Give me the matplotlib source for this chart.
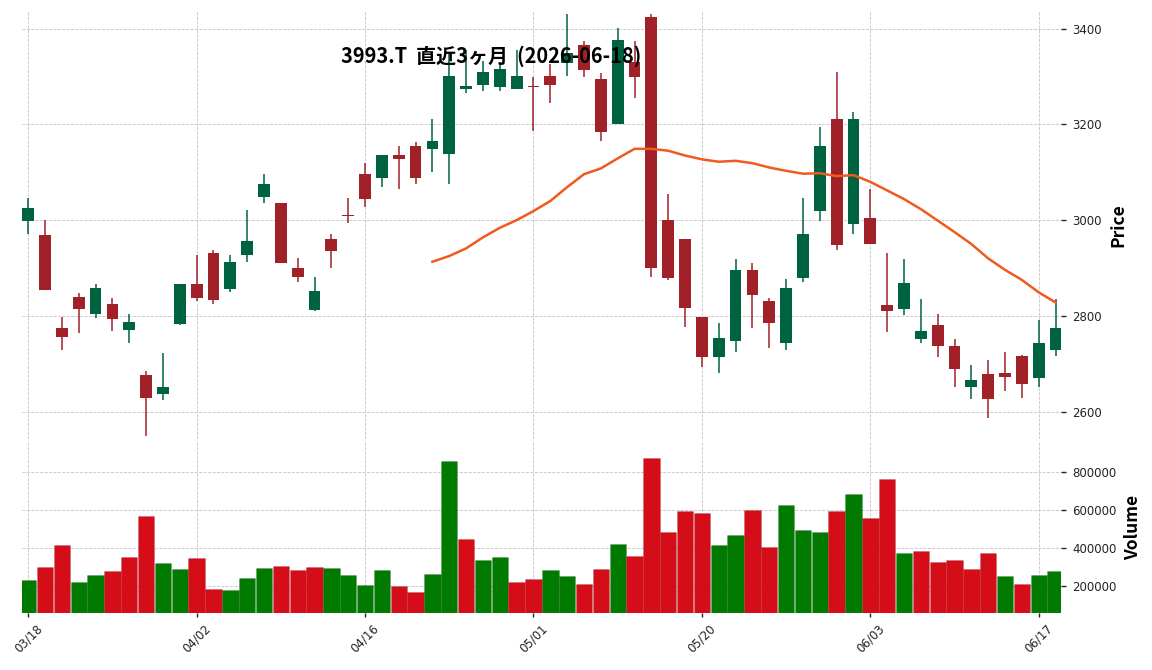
import matplotlib
matplotlib.use("Agg")
import numpy as np
import matplotlib.pyplot as plt

plt.rcParams['font.family'] = ['Noto Sans CJK JP', 'DejaVu Sans']

title = '3993.T  直近3ヶ月  (2026-06-18)'
tick_labels = ['03/18', '04/02', '04/16', '05/01', '05/20', '06/03', '06/17']

opens = [2999, 2969, 2775, 2840, 2803, 2825, 2771, 2677, 2636, 2784,
         2867, 2931, 2857, 2928, 3049, 3036, 2900, 2812, 2961, 3011,
         3096, 3089, 3136, 3155, 3149, 3138, 3275, 3283, 3279, 3275,
         3281, 3301, 3329, 3366, 3295, 3200, 3331, 3425, 3000, 2961,
         2798, 2714, 2748, 2896, 2831, 2744, 2880, 3020, 3211, 2991,
         3005, 2823, 2815, 2752, 2781, 2737, 2652, 2679, 2680, 2716,
         2671, 2729]
highs = [3046, 3000, 2797, 2847, 2867, 2837, 2803, 2685, 2722, 2867,
         2927, 2938, 2927, 3021, 3096, 3036, 2920, 2881, 2970, 3046,
         3119, 3136, 3154, 3164, 3211, 3350, 3355, 3333, 3331, 3355,
         3300, 3326, 3430, 3375, 3308, 3401, 3375, 3430, 3054, 2961,
         2798, 2785, 2919, 2911, 2837, 2876, 3046, 3194, 3310, 3225,
         3064, 2931, 2918, 2835, 2803, 2751, 2698, 2708, 2725, 2718,
         2791, 2835]
lows = [2972, 2854, 2729, 2764, 2795, 2768, 2743, 2548, 2624, 2780,
        2830, 2824, 2849, 2912, 3035, 2911, 2870, 2811, 2899, 2995,
        3028, 3070, 3064, 3075, 3100, 3075, 3265, 3270, 3270, 3275,
        3186, 3244, 3301, 3300, 3165, 3200, 3255, 2881, 2875, 2776,
        2694, 2680, 2724, 2774, 2732, 2729, 2870, 2998, 2938, 2970,
        2951, 2766, 2801, 2743, 2715, 2651, 2626, 2587, 2642, 2628,
        2651, 2716]
closes = [3025, 2854, 2755, 2815, 2858, 2794, 2787, 2629, 2652, 2867,
          2838, 2834, 2913, 2957, 3076, 2911, 2882, 2852, 2936, 3009,
          3045, 3136, 3128, 3089, 3165, 3301, 3280, 3310, 3315, 3301,
          3279, 3283, 3349, 3314, 3184, 3376, 3300, 2901, 2880, 2817,
          2714, 2754, 2896, 2844, 2786, 2858, 2971, 3155, 2947, 3211,
          2951, 2811, 2869, 2769, 2736, 2688, 2665, 2626, 2673, 2658,
          2744, 2775]
volumes = [232000, 302000, 416000, 221000, 258000, 279000, 353000, 569000, 321000, 290000,
           348000, 184000, 179000, 242000, 295000, 305000, 284000, 300000, 295000, 258000,
           205000, 284000, 200000, 168000, 263000, 860000, 448000, 337000, 353000, 221000,
           237000, 284000, 253000, 211000, 290000, 422000, 358000, 875000, 485000, 596000,
           585000, 416000, 469000, 601000, 406000, 627000, 495000, 485000, 596000, 685000,
           559000, 765000, 374000, 385000, 327000, 337000, 290000, 374000, 253000, 211000,
           258000, 279000]
# 25-day moving average, starts at the 25th session
ma25 = [2913, 2925, 2941, 2964, 2984, 3000, 3019, 3040, 3069, 3096,
        3108, 3129, 3149, 3149, 3145, 3135, 3127, 3122, 3124, 3119,
        3110, 3103, 3097, 3098, 3092, 3094, 3080, 3062, 3044, 3023,
        2999, 2975, 2950, 2920, 2896, 2875, 2849, 2828]

o = np.array(opens, float)
h = np.array(highs, float)
l = np.array(lows, float)
c = np.array(closes, float)
v = np.array(volumes, float)
x = np.arange(len(c))

up_col, dn_col = '#006340', '#a02128'
vup_col, vdn_col = '#007a00', '#d50d18'
cols = np.where(c >= o, up_col, dn_col)
prev = np.concatenate([[c[0] - 1], c[:-1]])
vcols = np.where(c >= prev, vup_col, vdn_col)

fig = plt.figure(figsize=(11.52, 6.70), dpi=100)
ax = fig.add_axes([0.0191, 0.3443, 0.9016, 0.6393])
axv = fig.add_axes([0.0191, 0.0851, 0.9016, 0.2567], sharex=ax)

grid_kw = dict(ls='--', lw=0.6, color='#c4c4c4')
for a in (ax, axv):
    a.set_axisbelow(True)
    a.grid(True, **grid_kw)
    for s in a.spines.values():
        s.set_visible(False)
    a.yaxis.tick_right()
    a.yaxis.set_label_position('right')
    a.tick_params(axis='y', labelsize=8.5, length=3.5, width=1, pad=5,
                  colors='#222222', labelfontfamily='DejaVu Sans')

ax.vlines(x, l, h, colors=cols, lw=1.1, zorder=2)
ax.bar(x, np.maximum(np.abs(c - o), 2), bottom=np.minimum(o, c), width=0.7,
       color=cols, zorder=3)
ax.plot(x[len(x) - len(ma25):], ma25, color='#f05a1e', lw=1.8, zorder=4)

ax.set_ylim(2542, 3437)
ax.set_yticks([2600, 2800, 3000, 3200, 3400])
ax.set_ylabel('Price', fontsize=12.5, fontweight='bold', labelpad=5)
ax.tick_params(axis='x', length=0, labelbottom=False)

axv.bar(x, v, width=0.97, color=vcols, edgecolor='#00000022', lw=0.5)
axv.set_ylim(57500, 965000)
axv.set_yticks([200000, 400000, 600000, 800000])
axv.set_ylabel('Volume', fontsize=12.5, fontweight='bold', labelpad=5)
axv.set_xlim(-0.37, 61.3)
axv.set_xticks(x[::10])
axv.set_xticklabels(tick_labels, rotation=45, ha='center')
axv.tick_params(axis='x', labelsize=8.5, length=3, width=1, colors='#222222',
                labelfontfamily='DejaVu Sans')

fig.text(0.426, 0.916, title, ha='center', va='center', fontsize=14.4, fontweight='bold')

fig.savefig('out.png', dpi=100)
